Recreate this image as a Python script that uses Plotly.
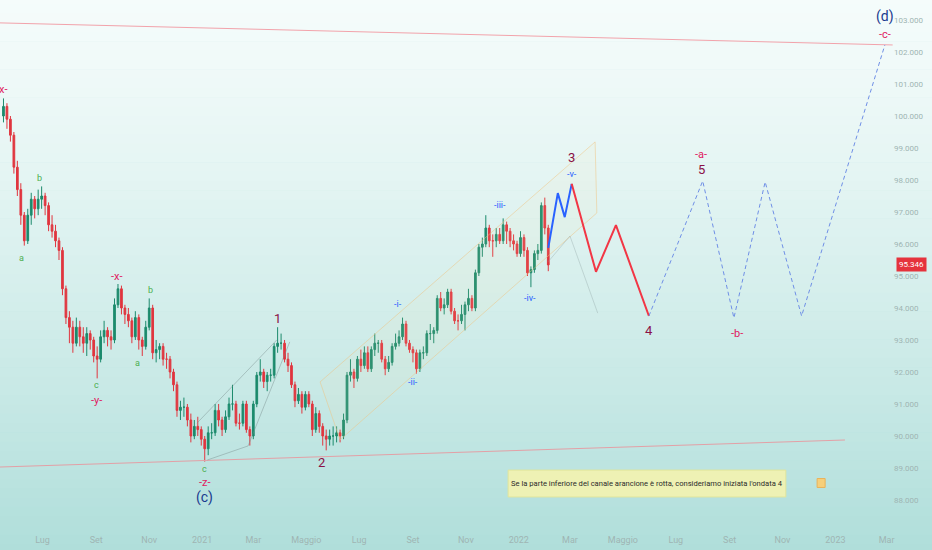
import pandas as pd
import plotly.graph_objects as go

# 4-day bars, dollar index
opens = [
    100.0, 100.3, 99.9, 99.4, 98.4, 97.7, 96.9, 96.1, 96.9, 97.4,
    97.1, 97.4, 97.5, 97.2, 96.6, 96.4, 96.1, 95.8, 94.6, 93.7,
    93.4, 92.9, 93.4, 93.1, 92.9, 93.2, 93.0, 92.5, 92.4, 93.1,
    93.3, 93.1, 93.0, 94.1, 94.6, 94.0, 93.8, 93.6, 93.1, 93.7,
    93.0, 92.8, 93.4, 94.0, 92.6, 92.7, 92.8, 92.4, 92.4, 92.0,
    91.6, 90.8, 90.9, 90.9, 90.5, 90.0, 90.3, 90.2, 89.9, 89.6,
    90.1, 90.1, 90.8, 90.5, 90.2, 90.6, 91.0, 91.0, 90.4, 90.4,
    91.0, 90.2, 90.0, 91.0, 91.9, 92.0, 91.7, 91.9, 91.9, 92.8,
    92.9, 92.9, 92.4, 92.2, 91.6, 91.1, 91.3, 90.9, 91.3, 91.0,
    90.2, 90.7, 90.3, 90.0, 89.9, 90.0, 90.0, 90.1, 90.0, 90.5,
    91.9, 92.0, 91.8, 92.4, 92.2, 92.6, 92.1, 92.7, 92.9, 92.9,
    92.4, 92.1, 92.3, 92.8, 92.9, 93.1, 93.5, 92.9, 92.7, 92.6,
    92.1, 92.6, 92.6, 93.2, 93.2, 93.3, 94.3, 94.0, 94.1, 94.5,
    93.9, 93.6, 93.6, 93.8, 94.1, 94.3, 94.0, 95.1, 95.9, 96.0,
    96.5, 96.1, 96.1, 96.3, 96.1, 96.6, 96.4, 96.1, 96.0, 95.7,
    96.2, 95.8, 95.1, 95.2, 95.7, 95.8, 97.2, 96.5,
]
highs = [
    100.55, 100.4, 100.0, 99.5, 98.6, 97.9, 97.0, 97.1, 97.6, 97.5,
    97.7, 97.8, 97.6, 97.3, 96.9, 96.6, 96.2, 95.9, 94.7, 93.9,
    93.6, 93.7, 93.6, 93.4, 93.4, 93.3, 93.1, 92.8, 93.3, 93.6,
    93.4, 93.3, 94.3, 94.75, 94.7, 94.1, 94.0, 93.7, 93.9, 93.8,
    93.1, 93.6, 94.3, 94.1, 93.0, 92.9, 92.9, 92.6, 92.5, 92.1,
    91.7, 91.1, 91.2, 91.0, 90.7, 90.5, 90.6, 90.3, 90.0, 90.3,
    90.4, 91.0, 91.0, 90.6, 90.8, 91.2, 91.6, 91.1, 90.7, 91.1,
    91.1, 90.3, 91.1, 92.0, 92.4, 92.1, 92.0, 92.1, 92.9, 93.4,
    93.2, 93.0, 92.6, 92.3, 91.7, 91.5, 91.4, 91.4, 91.4, 91.1,
    90.9, 90.8, 90.4, 90.2, 90.2, 90.3, 90.3, 90.2, 90.7, 92.0,
    92.4, 92.1, 92.5, 92.7, 92.8, 92.8, 92.8, 93.2, 93.0, 93.0,
    92.5, 92.5, 92.9, 93.2, 93.3, 93.7, 93.6, 93.0, 92.8, 92.7,
    92.7, 92.8, 93.3, 93.5, 93.4, 94.4, 94.5, 94.3, 94.6, 94.6,
    94.0, 93.8, 94.1, 94.2, 94.6, 94.4, 95.2, 96.0, 96.2, 96.9,
    96.6, 96.3, 96.5, 96.5, 96.8, 96.7, 96.5, 96.3, 96.1, 96.4,
    96.3, 95.9, 95.3, 95.8, 96.0, 97.3, 97.45, 96.6,
]
lows = [
    99.8, 99.6, 99.2, 98.2, 97.5, 96.6, 95.95, 96.0, 96.6, 96.8,
    96.9, 97.1, 96.9, 96.4, 96.2, 95.9, 95.5, 94.4, 93.5, 92.9,
    92.6, 92.8, 92.8, 92.6, 92.5, 92.7, 92.3, 91.8, 92.3, 92.9,
    92.8, 92.7, 92.9, 94.0, 93.8, 93.5, 93.4, 92.9, 93.0, 92.7,
    92.5, 92.7, 93.3, 92.4, 92.3, 92.4, 92.2, 92.1, 91.8, 91.4,
    90.6, 90.5, 90.6, 90.3, 89.8, 89.9, 90.0, 89.7, 89.2, 89.4,
    89.9, 90.0, 90.3, 90.0, 90.1, 90.5, 90.8, 90.3, 90.2, 90.3,
    90.1, 89.7, 89.9, 90.9, 91.7, 91.5, 91.4, 91.7, 91.8, 92.6,
    92.7, 92.3, 92.0, 91.5, 90.9, 91.0, 90.7, 90.8, 90.9, 90.0,
    90.1, 90.1, 89.7, 89.55, 89.7, 89.7, 89.8, 89.8, 89.9, 90.4,
    91.7, 91.5, 91.7, 92.0, 92.1, 92.0, 92.0, 92.5, 92.6, 92.3,
    91.9, 92.0, 92.2, 92.7, 92.8, 93.0, 92.8, 92.6, 92.3, 91.95,
    92.0, 92.4, 92.5, 93.0, 92.9, 93.2, 93.9, 93.8, 94.0, 93.8,
    93.5, 93.3, 93.5, 93.3, 93.9, 93.9, 93.9, 95.0, 95.6, 95.9,
    95.9, 95.6, 95.9, 96.0, 96.0, 96.0, 95.9, 95.8, 95.6, 95.6,
    95.6, 95.0, 94.65, 95.1, 95.5, 95.7, 96.3, 95.15,
]
closes = [
    100.3, 99.9, 99.4, 98.4, 97.7, 96.9, 96.1, 96.9, 97.4, 97.1,
    97.4, 97.5, 97.2, 96.6, 96.4, 96.1, 95.8, 94.6, 93.7, 93.4,
    92.9, 93.4, 93.1, 92.9, 93.2, 93.0, 92.5, 92.4, 93.1, 93.3,
    93.1, 93.0, 94.1, 94.6, 94.0, 93.8, 93.6, 93.1, 93.7, 93.0,
    92.8, 93.4, 94.0, 92.6, 92.7, 92.8, 92.4, 92.4, 92.0, 91.6,
    90.8, 90.9, 90.9, 90.5, 90.0, 90.3, 90.2, 89.9, 89.6, 90.1,
    90.1, 90.8, 90.5, 90.2, 90.6, 91.0, 91.0, 90.4, 90.4, 91.0,
    90.2, 90.0, 91.0, 91.9, 92.0, 91.7, 91.9, 91.9, 92.8, 92.9,
    92.9, 92.4, 92.2, 91.6, 91.1, 91.3, 90.9, 91.3, 91.0, 90.2,
    90.7, 90.3, 90.0, 89.9, 90.0, 90.0, 90.1, 90.0, 90.5, 91.9,
    92.0, 91.8, 92.4, 92.2, 92.6, 92.1, 92.7, 92.9, 92.9, 92.4,
    92.1, 92.3, 92.8, 92.9, 93.1, 93.5, 92.9, 92.7, 92.6, 92.1,
    92.6, 92.6, 93.2, 93.2, 93.3, 94.3, 94.0, 94.1, 94.5, 93.9,
    93.6, 93.6, 93.8, 94.1, 94.3, 94.0, 95.1, 95.9, 96.0, 96.5,
    96.1, 96.1, 96.3, 96.1, 96.6, 96.4, 96.1, 96.0, 95.7, 96.2,
    95.8, 95.1, 95.2, 95.7, 95.8, 97.2, 96.5, 95.346,
]
bar_dates = pd.date_range("2020-05-17", periods=len(closes), freq="4D")
last_price = 95.346

# drawings (date, price)
top_line_x = ["2020-05-13", "2023-03-08"]
top_line_y = [102.91, 102.22]
bottom_line_x = ["2020-05-13", "2023-01-12"]
bottom_line_y = [89.03, 89.875]

channel_x = ["2021-05-17", "2022-03-30", "2022-04-01", "2021-06-09", "2021-05-17"]
channel_y = [91.69, 99.19, 96.97, 89.88, 91.69]

wedge_a_x = ["2020-12-26", "2021-03-28"]
wedge_a_y = [90.40, 93.00]
wedge_b_x = ["2021-01-07", "2021-02-23", "2021-04-12"]
wedge_b_y = [89.25, 89.69, 92.94]

alt_x = ["2022-02-04", "2022-03-01", "2022-04-02"]
alt_y = [95.45, 96.25, 93.84]

wave_v_x = ["2022-02-04", "2022-02-15", "2022-02-23", "2022-03-03"]
wave_v_y = [95.88, 97.59, 96.84, 97.88]
wave_4_x = ["2022-03-03", "2022-03-31", "2022-04-23", "2022-05-31"]
wave_4_y = [97.88, 95.13, 96.59, 93.75]
wave_5_x = ["2022-05-31", "2022-08-01", "2022-09-06", "2022-10-12", "2022-11-23", "2023-02-27"]
wave_5_y = [93.75, 97.97, 93.69, 97.94, 93.75, 102.22]

tick_dates = ["2020-07-01", "2020-09-01", "2020-11-01", "2021-01-01", "2021-03-01",
              "2021-05-01", "2021-07-01", "2021-09-01", "2021-11-01", "2022-01-01",
              "2022-03-01", "2022-05-01", "2022-07-01", "2022-09-01", "2022-11-01",
              "2023-01-01", "2023-03-01"]
tick_text = ["Lug", "Set", "Nov", "2021", "Mar", "Maggio", "Lug", "Set", "Nov", "2022",
             "Mar", "Maggio", "Lug", "Set", "Nov", "2023", "Mar"]
price_ticks = list(range(88, 104))

PINK = "#e0195f"
GREEN = "#4caf50"
MAROON = "#8b1146"
BLUE = "#2962ff"
NAVY = "#1a3a8f"

# text, date, price, colour, size
wave_labels = [
    ("-x-", "2020-05-15", 100.84, PINK, 11),
    ("b", "2020-06-28", 98.06, GREEN, 9),
    ("a", "2020-06-07", 95.56, GREEN, 9),
    ("-x-", "2020-09-25", 94.97, PINK, 11),
    ("b", "2020-11-02", 94.56, GREEN, 9),
    ("a", "2020-10-18", 92.28, GREEN, 9),
    ("c", "2020-09-01", 91.59, GREEN, 9),
    ("-y-", "2020-09-01", 91.12, PINK, 11),
    ("c", "2021-01-04", 88.97, GREEN, 9),
    ("-z-", "2021-01-04", 88.56, PINK, 11),
    ("(c)", "2021-01-04", 88.09, NAVY, 14),
    ("1", "2021-03-29", 93.66, MAROON, 13),
    ("2", "2021-05-19", 89.16, MAROON, 13),
    ("-i-", "2021-08-15", 94.12, BLUE, 9),
    ("-ii-", "2021-09-01", 91.69, BLUE, 9),
    ("-iii-", "2021-12-10", 97.22, BLUE, 9),
    ("-iv-", "2022-01-14", 94.31, BLUE, 9),
    ("-v-", "2022-03-03", 98.19, BLUE, 9),
    ("3", "2022-03-03", 98.69, MAROON, 13),
    ("-a-", "2022-07-30", 98.81, PINK, 11),
    ("5", "2022-07-31", 98.34, MAROON, 13),
    ("4", "2022-05-31", 93.31, MAROON, 13),
    ("-b-", "2022-09-10", 93.19, PINK, 11),
    ("(d)", "2023-02-27", 103.12, NAVY, 14),
    ("-c-", "2023-02-27", 102.56, PINK, 11),
]

note = "Se la parte inferiore del canale arancione è rotta, consideriamo iniziata l'ondata 4"

fig = go.Figure()

fig.add_trace(go.Scatter(x=channel_x, y=channel_y, mode="lines", fill="toself",
                         fillcolor="rgba(255, 225, 170, 0.08)",
                         line=dict(color="rgba(240, 195, 130, 0.5)", width=1)))
fig.add_trace(go.Scatter(x=top_line_x, y=top_line_y, mode="lines",
                         line=dict(color="#f2a3ab", width=1)))
fig.add_trace(go.Scatter(x=bottom_line_x, y=bottom_line_y, mode="lines",
                         line=dict(color="#e3a0a6", width=1)))
for wx, wy in [(wedge_a_x, wedge_a_y), (wedge_b_x, wedge_b_y)]:
    fig.add_trace(go.Scatter(x=wx, y=wy, mode="lines",
                             line=dict(color="rgba(120, 140, 140, 0.55)", width=0.8)))
fig.add_trace(go.Scatter(x=alt_x, y=alt_y, mode="lines",
                         line=dict(color="rgba(150, 170, 170, 0.5)", width=0.8)))

fig.add_trace(go.Candlestick(
    x=bar_dates, open=opens, high=highs, low=lows, close=closes,
    increasing=dict(line=dict(color="#1c8a6c", width=1), fillcolor="#1c8a6c"),
    decreasing=dict(line=dict(color="#e0363f", width=1), fillcolor="#e0363f"),
))

fig.add_trace(go.Scatter(x=wave_v_x, y=wave_v_y, mode="lines",
                         line=dict(color=BLUE, width=2)))
fig.add_trace(go.Scatter(x=wave_4_x, y=wave_4_y, mode="lines",
                         line=dict(color="#f23645", width=2)))
fig.add_trace(go.Scatter(x=wave_5_x, y=wave_5_y, mode="lines",
                         line=dict(color="#6f8fe6", width=1, dash="4px,3px")))

for text, d, p, col, size in wave_labels:
    fig.add_annotation(x=d, y=p, text=text, showarrow=False,
                       font=dict(color=col, size=size, family="Roboto"))

# note box
fig.add_shape(type="rect", xref="paper", yref="paper", x0=0.569, x1=0.880,
              y0=0.057, y1=0.108, fillcolor="#eef1b4", line=dict(color="#e1e59c", width=1))
fig.add_annotation(xref="paper", yref="paper", x=0.7245, y=0.0825, xanchor="center",
                   yanchor="middle", text=note, showarrow=False,
                   font=dict(size=7.6, color="#2b2b2b", family="Roboto"))
fig.add_shape(type="rect", xref="paper", yref="paper", x0=0.915, x1=0.924,
              y0=0.075, y1=0.092, fillcolor="#f6cf7a", line=dict(color="#e9b25a", width=1))

fig.add_annotation(xref="paper", yref="y", x=1.0, y=last_price, xanchor="left",
                   text=f"{last_price:.3f}", showarrow=False, xshift=3,
                   font=dict(size=8, color="white", family="Roboto"),
                   bgcolor="#e5333d", borderpad=2)

# soft mint gradient behind the chart
n = 60
top_rgb = (245, 252, 251)
bot_rgb = (175, 222, 218)
y_lo, y_hi = -0.05, 1.01
for k in range(n):
    t = (k + 0.5) / n
    tt = t ** 1.25
    rgb = [round(top_rgb[j] + (bot_rgb[j] - top_rgb[j]) * tt) for j in range(3)]
    y1 = y_hi - (y_hi - y_lo) * k / n
    y0 = y_hi - (y_hi - y_lo) * (k + 1) / n
    fig.add_shape(type="rect", xref="paper", yref="paper", x0=-0.01, x1=1.06,
                  y0=y0 - 0.001, y1=y1, layer="below", line=dict(width=0),
                  fillcolor=f"rgb({rgb[0]},{rgb[1]},{rgb[2]})")

fig.update_layout(
    width=932, height=550,
    margin=dict(l=0, r=39, t=0, b=23, autoexpand=False),
    paper_bgcolor="#afdeda",
    plot_bgcolor="rgba(0,0,0,0)",
    showlegend=False,
    hovermode=False,
    font=dict(family="Roboto"),
)
fig.update_xaxes(
    type="date", range=["2020-05-13", "2023-03-08 09:00"],
    tickvals=tick_dates, ticktext=tick_text,
    tickfont=dict(size=9, color="#9fb5b3"),
    ticklabelstandoff=6,
    showgrid=False, zeroline=False, showline=False, ticks="",
    rangeslider=dict(visible=False),
)
fig.update_yaxes(
    side="right", range=[87.156, 103.625],
    tickvals=price_ticks, tickformat=".3f",
    tickfont=dict(size=8, color="#9fb5b3"),
    showgrid=False, zeroline=False, showline=False, ticks="",
)

fig.write_html("out.html", config={"displayModeBar": False},
               post_script="document.body.style.margin='0';")
